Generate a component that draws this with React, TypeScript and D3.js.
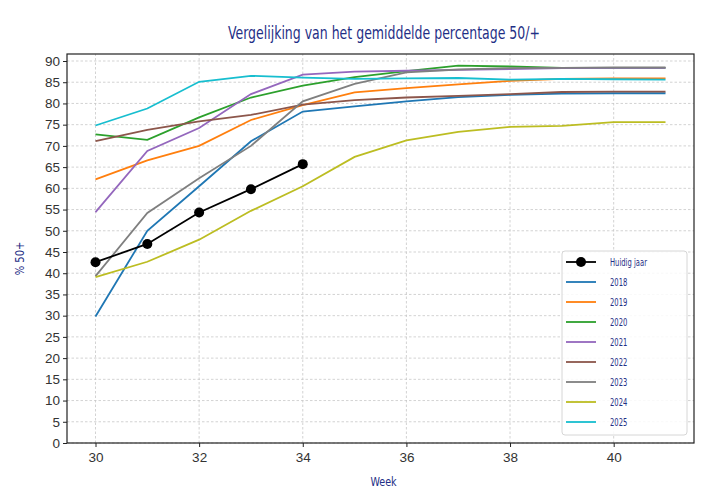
import * as d3 from 'd3';
import React, { useEffect, useRef } from 'react';

const weeks = [30, 31, 32, 33, 34, 35, 36, 37, 38, 39, 40, 41];
const currentWeeks = [30, 31, 32, 33, 34];
const currentYear = [42.6, 46.9, 54.3, 59.8, 65.7];

const years = ['2018', '2019', '2020', '2021', '2022', '2023', '2024', '2025'];
const colors = ['#1f77b4', '#ff7f0e', '#2ca02c', '#9467bd', '#8c564b', '#7f7f7f', '#bcbd22', '#17becf'];

const v2018 = [29.8, 50.0, 60.5, 71.1, 78.1, 79.3, 80.5, 81.5, 82.0, 82.3, 82.4, 82.4];
const v2019 = [62.1, 66.6, 70.0, 76.1, 79.6, 82.6, 83.6, 84.5, 85.3, 85.8, 85.9, 85.9];
const v2020 = [72.7, 71.4, 76.7, 81.4, 84.2, 86.2, 87.6, 88.9, 88.7, 88.4, 88.4, 88.4];
const v2021 = [54.4, 68.8, 74.2, 82.2, 86.8, 87.5, 87.7, 87.9, 88.1, 88.3, 88.4, 88.4];
const v2022 = [71.1, 73.8, 75.8, 77.3, 79.7, 80.8, 81.4, 81.8, 82.2, 82.7, 82.8, 82.8];
const v2023 = [39.3, 54.2, 62.4, 70.0, 80.5, 84.6, 87.3, 88.0, 88.3, 88.4, 88.5, 88.5];
const v2024 = [39.1, 42.7, 47.9, 54.7, 60.5, 67.4, 71.3, 73.3, 74.5, 74.7, 75.6, 75.6];
const v2025 = [74.8, 78.8, 85.1, 86.5, 86.1, 85.8, 85.9, 86.0, 85.6, 85.8, 85.7, 85.6];

const seriesValues = [v2018, v2019, v2020, v2021, v2022, v2023, v2024, v2025];

const xTicks = [30, 32, 34, 36, 38, 40];
const yTicks = d3.range(0, 91, 5);

const W = 706;
const H = 491;
const margin = { left: 67, right: 12, top: 54, bottom: 48 };

const navy = '#1f2f86';
const condensed = "'Liberation Sans Narrow', 'DejaVu Sans Condensed', sans-serif";
const tickFont = "'Liberation Sans', Arial, sans-serif";

const App: React.FC = () => {
  const ref = useRef<SVGSVGElement | null>(null);

  useEffect(() => {
    if (!ref.current) return;
    const svg = d3.select(ref.current);
    svg.selectAll('*').remove();

    const x = d3.scaleLinear().domain([29.45, 41.55]).range([margin.left, W - margin.right]);
    const y = d3.scaleLinear().domain([0, 91.65]).range([H - margin.bottom, margin.top]);

    svg.append('rect').attr('width', W).attr('height', H).attr('fill', '#fff');

    // grid
    const grid = svg.append('g').attr('stroke', '#c8c8c8').attr('stroke-dasharray', '2.5,2').attr('stroke-width', 0.8);
    grid.selectAll('.gx').data(xTicks).enter().append('line')
      .attr('x1', d => x(d)).attr('x2', d => x(d))
      .attr('y1', y.range()[0]).attr('y2', y.range()[1]);
    grid.selectAll('.gy').data(yTicks).enter().append('line')
      .attr('x1', x.range()[0]).attr('x2', x.range()[1])
      .attr('y1', d => y(d)).attr('y2', d => y(d));

    // axes
    const xAxis = svg.append('g')
      .attr('transform', `translate(0,${H - margin.bottom})`)
      .call(d3.axisBottom(x).tickValues(xTicks).tickSize(4).tickPadding(5).tickSizeOuter(0));
    const yAxis = svg.append('g')
      .attr('transform', `translate(${margin.left},0)`)
      .call(d3.axisLeft(y).tickValues(yTicks).tickSize(4).tickPadding(3).tickSizeOuter(0));
    [xAxis, yAxis].forEach(a => {
      a.select('.domain').remove();
      a.selectAll('line').attr('stroke', '#222');
      a.selectAll('text').attr('fill', '#333').style('font-family', tickFont).style('font-size', '13.5px');
    });

    // lines
    const line = d3.line<number>()
      .x((_d, i) => x(weeks[i]))
      .y(d => y(d));

    svg.selectAll('.year-line')
      .data(seriesValues)
      .enter()
      .append('path')
      .attr('class', 'year-line')
      .attr('d', d => line(d))
      .attr('fill', 'none')
      .attr('stroke', (_d, i) => colors[i])
      .attr('stroke-width', 1.8);

    const curLine = d3.line<number>()
      .x((_d, i) => x(currentWeeks[i]))
      .y(d => y(d));
    svg.append('path')
      .attr('d', curLine(currentYear))
      .attr('fill', 'none')
      .attr('stroke', '#000')
      .attr('stroke-width', 1.8);
    svg.selectAll('.cur-pt')
      .data(currentYear)
      .enter()
      .append('circle')
      .attr('cx', (_d, i) => x(currentWeeks[i]))
      .attr('cy', d => y(d))
      .attr('r', 5)
      .attr('fill', '#000');

    // frame
    svg.append('rect')
      .attr('x', margin.left).attr('y', margin.top)
      .attr('width', W - margin.left - margin.right)
      .attr('height', H - margin.top - margin.bottom)
      .attr('fill', 'none').attr('stroke', '#222').attr('stroke-width', 1.2);

    // legend
    const lg = svg.append('g').attr('transform', 'translate(562,251)');
    lg.append('rect')
      .attr('width', 125).attr('height', 184).attr('rx', 3)
      .attr('fill', 'rgba(255,255,255,0.85)').attr('stroke', '#d6d6d6');
    const labels = ['Huidig jaar', ...years];
    const lcolors = ['#000', ...colors];
    labels.forEach((lab, i) => {
      const yy = 11 + i * 20;
      lg.append('line')
        .attr('x1', 4).attr('x2', 34).attr('y1', yy).attr('y2', yy)
        .attr('stroke', lcolors[i]).attr('stroke-width', 1.8);
      if (i === 0) lg.append('circle').attr('cx', 19).attr('cy', yy).attr('r', 5).attr('fill', '#000');
      lg.append('text')
        .attr('transform', `translate(48,${yy + 4}) scale(0.72,1)`)
        .text(lab)
        .attr('fill', navy)
        .style('font-family', condensed).style('font-stretch', 'condensed').style('font-size', '10.5px');
    });

    // titles
    svg.append('text')
      .attr('x', 384).attr('y', 39)
      .attr('text-anchor', 'middle')
      .attr('textLength', 312)
      .attr('lengthAdjust', 'spacingAndGlyphs')
      .text('Vergelijking van het gemiddelde percentage 50/+')
      .attr('fill', navy)
      .style('font-family', condensed).style('font-stretch', 'condensed').style('font-size', '18px');
    svg.append('text')
      .attr('transform', `translate(${(margin.left + W - margin.right) / 2 + 3},486) scale(0.82,1)`)
      .attr('text-anchor', 'middle')
      .text('Week')
      .attr('fill', navy)
      .style('font-family', condensed).style('font-stretch', 'condensed').style('font-size', '13px');
    svg.append('text')
      .attr('transform', `translate(24,${(margin.top + H - margin.bottom) / 2 + 10}) rotate(-90) scale(0.85,1)`)
      .attr('text-anchor', 'middle')
      .text('% 50+')
      .attr('fill', navy)
      .style('font-family', condensed).style('font-stretch', 'condensed').style('font-size', '13px');
  }, []);

  return (
    <svg ref={ref} width={W} height={H} style={{ position: 'absolute', left: 0, top: 0, display: 'block' }} />
  );
};

export default App;
